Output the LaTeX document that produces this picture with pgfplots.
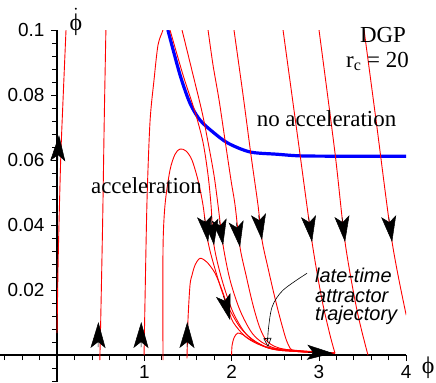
\documentclass[border=0pt]{standalone}
\usepackage{fontspec}
\usepackage{amsmath}
\setmainfont{Liberation Serif}
\newfontfamily\tickfont{Liberation Sans}
\newfontfamily\notefont{Liberation Sans}
\usepackage{pgfplots}
\pgfplotsset{compat=1.18}
\usetikzlibrary{arrows.meta}

\pgfplotsset{
  traj/.style={red, line width=0.9bp, smooth, tension=0.5},
  arr/.style={black, line width=0.5bp, -{Stealth[length=26bp,width=15bp,inset=6bp]}},
}

\begin{document}
\begin{tikzpicture}
\begin{axis}[
  scale only axis, width=406bp, height=352bp,
  xmin=-0.653, xmax=4, ymin=-0.00831, ymax=0.1,
  axis lines=middle, axis line style={-, line width=1.4bp},
  clip mode=individual,
  xtick={1,2,3,4}, xticklabels={1,2,3,4},
  minor xtick={-0.6,-0.4,-0.2,0.2,0.4,0.6,0.8,1.2,1.4,1.6,1.8,2.2,2.4,2.6,2.8,3.2,3.4,3.6,3.8},
  ytick={0.02,0.04,0.06,0.08,0.1}, yticklabels={0.02,0.04,0.06,0.08,0.1},
  minor ytick={-0.008,-0.004,0.004,0.008,0.012,0.016,0.024,0.028,0.032,0.036,0.044,0.048,0.052,0.056,0.064,0.068,0.072,0.076,0.084,0.088,0.092,0.096},
  tick align=outside,
  major tick length=6bp, minor tick length=5bp,
  tick style={black, line width=0.8bp},
  ticklabel style={font=\tickfont\fontsize{19}{19}\selectfont},
  xticklabel style={yshift=-1bp},
  yticklabel style={xshift=-3bp},
]
% boundary of acceleration region
\addplot[blue, line width=3.2bp, smooth] coordinates {
  (1.27,0.1) (1.409,0.0862) (1.523,0.0775) (1.638,0.0723) (1.787,0.0686)
  (1.959,0.0652) (2.211,0.0625) (2.52,0.0618) (2.783,0.0613) (3.2,0.0612) (4,0.0612)};

% rising trajectories
\addplot[traj] coordinates {(0,0.0068) (0.015,0.0314) (0.042,0.060) (0.069,0.0785) (0.103,0.1) (0.106,0.102)};
\addplot[traj] coordinates {(0.49,-0.0015) (0.50,0.01) (0.523,0.0415) (0.541,0.0723) (0.56,0.1) (0.562,0.102)};
% from phi=1, leaves the top and comes back down
\addplot[traj] coordinates {
  (0.997,0) (1.008,0.0169) (1.031,0.0477) (1.065,0.0717) (1.111,0.0846) (1.157,0.0954)
  (1.214,0.1) (1.25,0.1035) (1.294,0.1) (1.443,0.0862) (1.581,0.0748) (1.672,0.0655)
  (1.730,0.0554) (1.764,0.0462) (1.798,0.0338) (1.890,0.0231) (2.016,0.0132)
  (2.165,0.0065) (2.325,0.0034) (2.554,0.0015) (3.184,0.0006)};
% humps
\addplot[traj] coordinates {
  (1.214,-0.0015) (1.214,0.0323) (1.237,0.0462) (1.294,0.0569) (1.352,0.0618) (1.409,0.0634)
  (1.478,0.0628) (1.546,0.060) (1.615,0.0538) (1.672,0.0462) (1.730,0.0348) (1.821,0.0255)
  (1.936,0.0163) (2.096,0.0086) (2.268,0.0043) (2.463,0.0022) (3.184,0.0006)};
\addplot[traj] coordinates {
  (1.489,-0.001) (1.50,0.0108) (1.523,0.0215) (1.546,0.0246) (1.581,0.0277) (1.638,0.0298)
  (1.718,0.0286) (1.810,0.0252) (1.890,0.020) (1.959,0.0145) (2.016,0.0102) (2.154,0.0058)
  (2.302,0.0037) (2.497,0.0018) (3.184,0.0006)};
\addplot[traj] coordinates {
  (2.0,0) (2.005,0.003) (2.03,0.0055) (2.07,0.0068) (2.13,0.0063) (2.21,0.0047)
  (2.33,0.0031) (2.55,0.0015) (3.184,0.0006)};

% falling trajectories
\addplot[traj] coordinates {
  (1.432,0.1) (1.558,0.0862) (1.661,0.0748) (1.730,0.0655) (1.798,0.0554) (1.844,0.0462)
  (1.902,0.0338) (1.982,0.0231) (2.096,0.0138) (2.234,0.0068) (2.383,0.0034) (2.612,0.0015) (3.184,0.0006)};
\addplot[traj] coordinates {
  (1.730,0.1) (1.787,0.0892) (1.856,0.0785) (1.924,0.0662) (1.993,0.0538) (2.039,0.0462)
  (2.096,0.0332) (2.165,0.0246) (2.245,0.0154) (2.325,0.0083) (2.417,0.0040) (2.612,0.0018) (3.184,0.0006)};
\addplot[traj] coordinates {
  (2.027,0.1) (2.131,0.08) (2.222,0.0615) (2.302,0.0462) (2.348,0.0354) (2.417,0.0268)
  (2.497,0.0175) (2.577,0.0092) (2.646,0.0034) (2.738,0.0012) (3.184,0.0006)};
\addplot[traj] coordinates {(2.589,0.1) (2.761,0.0662) (2.921,0.0348) (3.036,0.0169) (3.127,0.0062) (3.184,0.0006)};
\addplot[traj] coordinates {(3.001,0.1) (3.184,0.0622) (3.299,0.0348) (3.436,0.0138) (3.562,0)};
\addplot[traj] coordinates {(3.517,0.1) (3.654,0.0723) (3.838,0.0348) (4.0,0.0123)};

% direction arrows
\addplot[arr] coordinates {(3.800,0.0424) (3.838,0.0348)};
\addplot[arr] coordinates {(3.265,0.0424) (3.299,0.0348)};
\addplot[arr] coordinates {(2.882,0.0424) (2.921,0.0348)};
\addplot[arr] coordinates {(2.309,0.0430) (2.348,0.0354)};
\addplot[arr] coordinates {(2.053,0.0408) (2.096,0.0332)};
\addplot[arr] coordinates {(1.859,0.0414) (1.902,0.0338)};
\addplot[arr] coordinates {(1.764,0.0415) (1.798,0.0338)};
\addplot[arr] coordinates {(1.691,0.0424) (1.730,0.0348)};
\addplot[arr] coordinates {(1.907,0.0182) (1.982,0.0108)};
\addplot[arr] coordinates {(0.009,0.060) (0.023,0.0677)};
\addplot[arr] coordinates {(0.47,0.0025) (0.474,0.0102)};
\addplot[arr] coordinates {(0.962,0.0025) (0.965,0.0102)};
\addplot[arr] coordinates {(1.489,0.0025) (1.492,0.0102)};
\addplot[arr] coordinates {(2.875,0.0009) (3.162,0.0006)};

% pointer to the attractor
\addplot[black, line width=0.6bp, smooth, -{Triangle[open,length=9bp,width=8bp]}] coordinates {
  (2.864,0.0252) (2.589,0.0200) (2.463,0.0148) (2.417,0.0068) (2.417,0.0025)};

\node[font=\fontsize{23}{23}\selectfont, anchor=base, inner sep=0pt] at (axis cs:1.025,0.0498) {acceleration};
\node[font=\fontsize{23}{23}\selectfont, anchor=base, inner sep=0pt] at (axis cs:3.087,0.0702) {no acceleration};
\node[font=\fontsize{23}{23}\selectfont, anchor=base, inner sep=0pt] at (axis cs:3.734,0.0963) {DGP};
\node[font=\fontsize{23}{23}\selectfont, anchor=base, inner sep=0pt] at (axis cs:3.671,0.0886) {r\textsubscript{c} = 20};
\node[font=\notefont\itshape\fontsize{20}{20}\selectfont, anchor=base west, inner sep=0pt] at (axis cs:2.955,0.02246) {late-time};
\node[font=\notefont\itshape\fontsize{20}{20}\selectfont, anchor=base west, inner sep=0pt] at (axis cs:2.955,0.0163) {attractor};
\node[font=\notefont\itshape\fontsize{20}{20}\selectfont, anchor=base west, inner sep=0pt] at (axis cs:2.955,0.01077) {trajectory};

% axis labels
\node[font=\fontsize{24}{24}\selectfont, anchor=base, inner sep=0pt] at (axis cs:0.218,0.1) {$\dot{\text{ϕ}}$};
\node[font=\fontsize{24}{24}\selectfont, anchor=base, inner sep=0pt] at (axis cs:4.25,-0.0055) {ϕ};

\coordinate (BL) at (axis cs:-0.653,-0.00831);
\coordinate (TR) at (axis cs:4.341,0.10923);
\end{axis}
\pgfresetboundingbox
\path[use as bounding box] (BL) rectangle (TR);
\end{tikzpicture}
\end{document}
